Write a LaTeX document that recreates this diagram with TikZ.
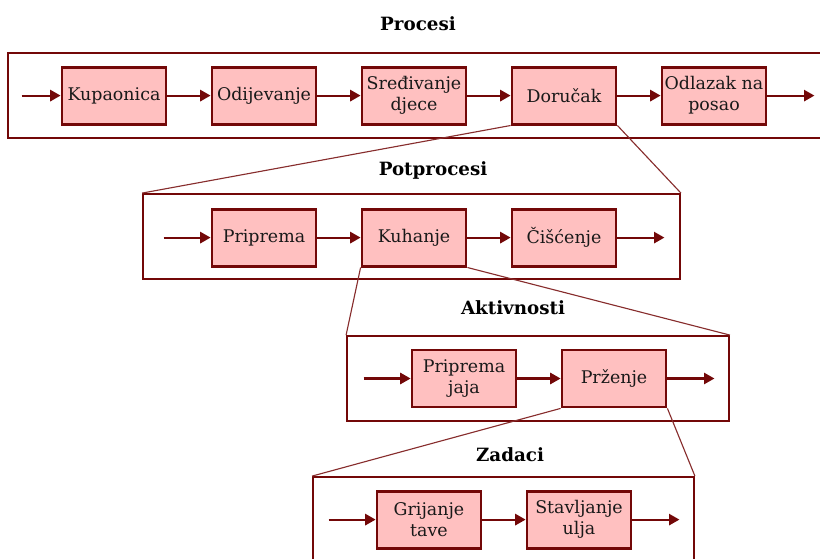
\documentclass[tikz,border=0pt]{standalone}
\usepackage{fontspec}
\setmainfont{DejaVu Serif}
\usetikzlibrary{positioning}
\usetikzlibrary{arrows.meta}
\definecolor{darkmaroon}{RGB}{115,8,8}
\definecolor{lightpink}{RGB}{255,192,192}
\definecolor{linemaroon}{RGB}{135,45,45}
\tikzset{
    mybox/.style = {rectangle, line width=2pt, draw=darkmaroon, fill=lightpink, minimum width=2.6cm, minimum height=1.425cm, inner sep=1pt, align=center, font=\fontsize{12.4}{15}\selectfont, text=black!90},
    myframe/.style = {rectangle, line width=1.3pt, draw=darkmaroon, minimum height=2.125cm},
    mytitle/.style = {font=\fontsize{13}{15}\selectfont\bfseries, text=black},
    edgen/.style = {-{Triangle[length=2.6mm,width=2.8mm]}, line width=1.5pt, darkmaroon},
    edgez/.style = {-, line width=0.8pt, linemaroon}, % zoom
}

\begin{document}
\begin{tikzpicture}
\path[use as bounding box] (0,0) rectangle (20.5,-13.975);
% frames
\node[myframe, minimum width=20.55cm] at (10.475,-2.3875) (f1) {};
\node[myframe, minimum width=13.425cm] at (10.2875,-5.9125) (f2) {};
\node[myframe, minimum width=9.55cm] at (13.45,-9.4625) (f3) {};
\node[myframe, minimum width=9.525cm] at (12.5875,-12.9875) (f4) {};
%
\node[mytitle] at (10.45,-0.6) (t1) {Procesi};
\node[mytitle] at (10.825,-4.25) (t2) {Potprocesi};
\node[mytitle] at (12.825,-7.7) (t3) {Aktivnosti};
\node[mytitle] at (12.75,-11.375) (t4) {Zadaci};
% procesi
\node[mybox] at (2.85,-2.39) (kup) {Kupaonica};
\node[mybox] at (6.6,-2.39) (odi) {Odijevanje};
\node[mybox] at (10.35,-2.39) (sre) {Sređivanje\\djece};
\node[mybox] at (14.1,-2.39) (dor) {Doručak};
\node[mybox] at (17.85,-2.39) (odl) {Odlazak na\\posao};
% potprocesi
\node[mybox] at (6.6,-5.94) (pri) {Priprema};
\node[mybox] at (10.35,-5.94) (kuh) {Kuhanje};
\node[mybox] at (14.1,-5.94) (cis) {Čišćenje};
% aktivnosti
\node[mybox] at (11.6,-9.4625) (jaj) {Priprema\\jaja};
\node[mybox] at (15.35,-9.4625) (prz) {Prženje};
% zadaci
\node[mybox] at (10.725,-12.99) (gri) {Grijanje\\tave};
\node[mybox] at (14.475,-12.99) (sta) {Stavljanje\\ulja};
%
\coordinate[left=0.975cm of kup] (in1);
\coordinate[right=1.175cm of odl] (out1);
\coordinate[left=1.175cm of pri] (in2);
\coordinate[right=1.175cm of cis] (out2);
\coordinate[left=1.175cm of jaj] (in3);
\coordinate[right=1.175cm of prz] (out3);
\coordinate[left=1.175cm of gri] (in4);
\coordinate[right=1.175cm of sta] (out4);
%
\draw[edgen] (in1) -- (kup);
\draw[edgen] (kup) -- (odi);
\draw[edgen] (odi) -- (sre);
\draw[edgen] (sre) -- (dor);
\draw[edgen] (dor) -- (odl);
\draw[edgen] (odl) -- (out1);
\draw[edgen] (in2) -- (pri);
\draw[edgen] (pri) -- (kuh);
\draw[edgen] (kuh) -- (cis);
\draw[edgen] (cis) -- (out2);
\draw[edgen] (in3) -- (jaj);
\draw[edgen] (jaj) -- (prz);
\draw[edgen] (prz) -- (out3);
\draw[edgen] (in4) -- (gri);
\draw[edgen] (gri) -- (sta);
\draw[edgen] (sta) -- (out4);
%
\draw[edgez] (dor.south west) -- (f2.north west);
\draw[edgez] (dor.south east) -- (f2.north east);
\draw[edgez] (kuh.south west) -- (f3.north west);
\draw[edgez] (kuh.south east) -- (f3.north east);
\draw[edgez] (prz.south west) -- (f4.north west);
\draw[edgez] (prz.south east) -- (f4.north east);
\end{tikzpicture}
\end{document}
